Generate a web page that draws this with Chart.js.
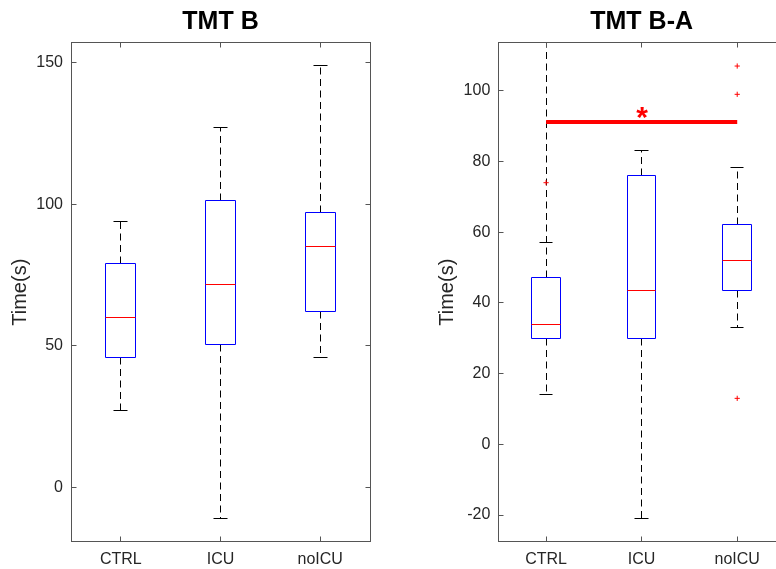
<!DOCTYPE html>
<html>
<head>
<meta charset="utf-8">
<script src="https://cdn.jsdelivr.net/npm/chart.js@4.4.1/dist/chart.umd.min.js"></script>
<style>
  html, body { margin: 0; padding: 0; background: #fff; overflow: hidden; }
  #wrap { position: relative; width: 776px; height: 569px; overflow: hidden; }
  .pane { position: absolute; top: 0; width: 400px; height: 569px; }
  #paneB { left: 0; }
  #paneBA { left: 400px; }
</style>
</head>
<body>
<div id="wrap">
  <div class="pane" id="paneB"><canvas id="chartB"></canvas></div>
  <div class="pane" id="paneBA"><canvas id="chartBA"></canvas></div>
</div>
<script>
var groups = ['CTRL', 'ICU', 'noICU'];

// TMT B, seconds
var bLow      = [27, -11, 46];
var bQ1       = [46, 50.5, 62.2];
var bMedian   = [60, 71.5, 85];
var bQ3       = [79, 101.5, 97.2];
var bHigh     = [94, 127, 149];
var bOutliers = [[], [], []];
var bTicks    = [0, 50, 100, 150];

// TMT B-A, seconds
var baLow      = [14, -21, 33];
var baQ1       = [29.8, 30, 43.6];
var baMedian   = [34, 43.6, 52.1];
var baQ3       = [47.2, 76.1, 62.1];
var baHigh     = [57, 83.2, 78.2];
var baReach    = [118, null, null];   // CTRL whisker keeps going past the top
var baOutliers = [[74], [], [107, 99, 13]];
var baTicks    = [-20, 0, 20, 40, 60, 80, 100];

// significance bar between CTRL and noICU
var sigPair  = [1, 3];
var sigLevel = 91.2;
var sigMark  = '*';

var FONT = '"Liberation Sans", Arial, Helvetica, sans-serif';
var INK = '#262626';
var FRAME = '#555';
var BOX_HALF = 0.15;
var CAP_HALF = 0.07;
var TICK_LEN = 5;

function snap(v) { return Math.round(v - 0.5) + 0.5; }

function line(ctx, x1, y1, x2, y2, color) {
  ctx.strokeStyle = color;
  ctx.beginPath();
  ctx.moveTo(x1, y1);
  ctx.lineTo(x2, y2);
  ctx.stroke();
}

function boxPlugin(stats) {
  return {
    id: 'boxes',
    beforeDatasetsDraw: function(chart) {
      var xs = chart.scales.x, ys = chart.scales.y, ctx = chart.ctx, a = chart.chartArea;
      ctx.save();
      ctx.beginPath();
      ctx.rect(a.left, a.top, a.right - a.left, a.bottom - a.top);
      ctx.clip();
      ctx.lineWidth = 1;
      for (var i = 0; i < stats.q1.length; i++) {
        var cx = snap(xs.getPixelForValue(i + 1));
        var xl = snap(xs.getPixelForValue(i + 1 - BOX_HALF));
        var xr = snap(xs.getPixelForValue(i + 1 + BOX_HALF));
        var cl = snap(xs.getPixelForValue(i + 1 - CAP_HALF));
        var cr = snap(xs.getPixelForValue(i + 1 + CAP_HALF));
        var yLo = snap(ys.getPixelForValue(stats.low[i]));
        var yQ1 = snap(ys.getPixelForValue(stats.q1[i]));
        var yMd = snap(ys.getPixelForValue(stats.median[i]));
        var yQ3 = snap(ys.getPixelForValue(stats.q3[i]));
        var yHi = snap(ys.getPixelForValue(stats.high[i]));
        var top = stats.reach && stats.reach[i] != null ? ys.getPixelForValue(stats.reach[i]) : yHi;

        // dashed whiskers
        ctx.setLineDash([7, 4.5]);
        line(ctx, cx, yQ3, cx, top, '#000');
        line(ctx, cx, yQ1, cx, yLo, '#000');
        ctx.setLineDash([]);

        // caps
        line(ctx, cl, yHi, cr, yHi, '#000');
        line(ctx, cl, yLo, cr, yLo, '#000');

        // box outline
        line(ctx, xl, yQ3, xr, yQ3, '#0000ff');
        line(ctx, xl, yQ1, xr, yQ1, '#0000ff');
        line(ctx, xl, yQ3, xl, yQ1, '#0000ff');
        line(ctx, xr, yQ3, xr, yQ1, '#0000ff');

        // median
        line(ctx, xl, yMd, xr, yMd, '#ff0000');
      }
      ctx.restore();
    },
    afterDatasetsDraw: function(chart) {
      if (!stats.sigText) return;
      var xs = chart.scales.x, ys = chart.scales.y, ctx = chart.ctx;
      ctx.save();
      ctx.font = 'bold 30px ' + FONT;
      ctx.fillStyle = '#ff0000';
      ctx.textAlign = 'center';
      ctx.textBaseline = 'alphabetic';
      var m = ctx.measureText(stats.sigText);
      var mid = (m.actualBoundingBoxAscent - m.actualBoundingBoxDescent) / 2;
      var cx = xs.getPixelForValue((stats.sigPair[0] + stats.sigPair[1]) / 2);
      var cy = ys.getPixelForValue(stats.sigLevel) - 9;
      ctx.fillText(stats.sigText, cx + 0.5, cy + mid);
      ctx.restore();
    },
    afterDraw: function(chart) {
      var xs = chart.scales.x, ys = chart.scales.y, ctx = chart.ctx, a = chart.chartArea;
      var l = snap(a.left), r = snap(a.right), t = snap(a.top), b = snap(a.bottom);
      ctx.save();
      ctx.strokeStyle = FRAME;
      ctx.lineWidth = 1;
      ctx.strokeRect(l, t, r - l, b - t);
      ctx.beginPath();
      xs.ticks.forEach(function(tk) {
        var x = snap(xs.getPixelForValue(tk.value));
        ctx.moveTo(x, b); ctx.lineTo(x, b - TICK_LEN);
        ctx.moveTo(x, t); ctx.lineTo(x, t + TICK_LEN);
      });
      ys.ticks.forEach(function(tk) {
        var y = snap(ys.getPixelForValue(tk.value));
        ctx.moveTo(l, y); ctx.lineTo(l + TICK_LEN, y);
        ctx.moveTo(r, y); ctx.lineTo(r - TICK_LEN, y);
      });
      ctx.stroke();
      ctx.restore();
    }
  };
}

function outlierPoints(list) {
  var pts = [];
  list.forEach(function(vals, i) {
    vals.forEach(function(v) { pts.push({ x: i + 1, y: v }); });
  });
  return pts;
}

function makeChart(id, title, stats, yMin, yMax, yTicks, padLeft, padRight) {
  var datasets = [{
    type: 'scatter',
    data: outlierPoints(stats.outliers),
    pointStyle: 'cross',
    pointRadius: 2.6,
    borderColor: '#ff0000',
    borderWidth: 1
  }];
  if (stats.sigText) {
    datasets.unshift({
      type: 'line',
      data: [{ x: stats.sigPair[0], y: stats.sigLevel }, { x: stats.sigPair[1], y: stats.sigLevel }],
      borderColor: '#ff0000',
      borderWidth: 4,
      borderCapStyle: 'butt',
      pointRadius: 0
    });
  }

  return new Chart(document.getElementById(id), {
    type: 'scatter',
    data: { datasets: datasets },
    plugins: [boxPlugin(stats)],
    options: {
      responsive: true,
      maintainAspectRatio: false,
      animation: false,
      devicePixelRatio: 1,
      layout: { padding: { left: padLeft, right: padRight, top: 0, bottom: 0 } },
      plugins: {
        legend: { display: false },
        tooltip: { enabled: false },
        title: {
          display: true,
          text: title,
          fullSize: false,
          color: '#000',
          font: { family: FONT, size: 25, weight: 'bold' },
          padding: { top: 7.6, bottom: 5.1 }
        }
      },
      scales: {
        x: {
          type: 'linear',
          position: 'bottom',
          min: 0.5,
          max: 3.5,
          grid: { display: false, drawTicks: false },
          border: { display: false },
          afterBuildTicks: function(s) {
            s.ticks = groups.map(function(g, i) { return { value: i + 1 }; });
          },
          afterFit: function(s) { s.height = 27.3; },
          ticks: {
            padding: 8,
            maxRotation: 0,
            autoSkip: false,
            color: INK,
            font: { family: FONT, size: 16 },
            callback: function(v) { return groups[Math.round(v) - 1]; }
          }
        },
        y: {
          type: 'linear',
          position: 'left',
          min: yMin,
          max: yMax,
          grid: { display: false, drawTicks: false },
          border: { display: false },
          afterBuildTicks: function(s) {
            s.ticks = yTicks.map(function(v) { return { value: v }; });
          },
          afterFit: function(s) { s.width = 71; },
          ticks: {
            padding: 8,
            color: INK,
            font: { family: FONT, size: 16 }
          },
          title: {
            display: true,
            text: 'Time(s)',
            color: INK,
            font: { family: FONT, size: 20 },
            padding: { top: 8.5, bottom: 0 }
          }
        }
      }
    }
  });
}

makeChart('chartB', 'TMT B', {
  low: bLow, q1: bQ1, median: bMedian, q3: bQ3, high: bHigh,
  outliers: bOutliers
}, -19.2, 157.1, bTicks, 0, 30);

makeChart('chartBA', 'TMT B-A', {
  low: baLow, q1: baQ1, median: baMedian, q3: baQ3, high: baHigh,
  reach: baReach, outliers: baOutliers,
  sigPair: sigPair, sigLevel: sigLevel, sigText: sigMark
}, -27.55, 113.6, baTicks, 27.3, 15);
</script>
</body>
</html>
